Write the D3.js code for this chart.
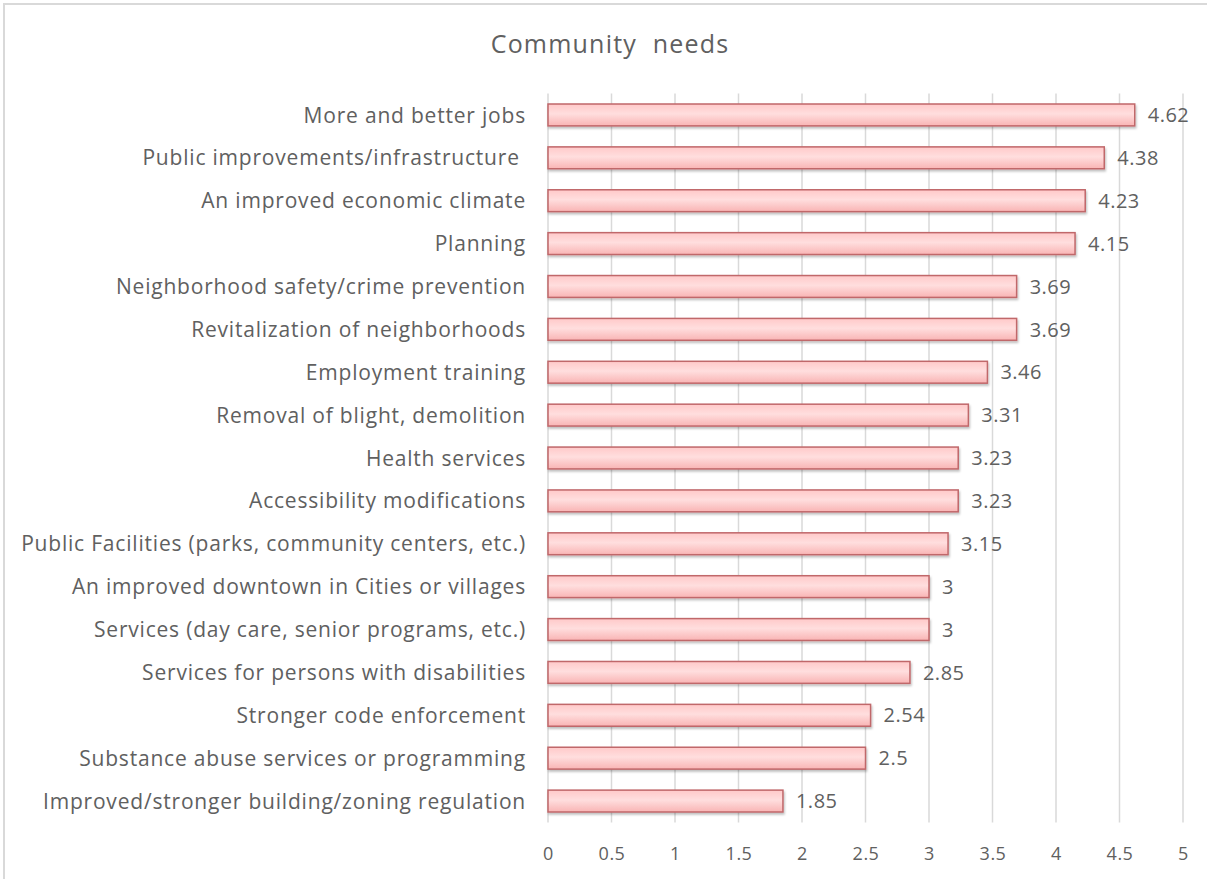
<!DOCTYPE html>
<html>
<head>
<meta charset="utf-8">
<script src="https://cdn.jsdelivr.net/npm/d3@7"></script>
<style>
  html, body { margin: 0; padding: 0; background: #fff; }
  svg { display: block; }
  text { font-family: "Open Sans", "Noto Sans", sans-serif; fill: #606060; }
</style>
</head>
<body>
<svg id="chart" width="1207" height="879"></svg>
<script>
// Community needs survey: mean rating per need
const categories = [
  "More and better jobs",
  "Public improvements/infrastructure ",
  "An improved economic climate",
  "Planning",
  "Neighborhood safety/crime prevention",
  "Revitalization of neighborhoods",
  "Employment training",
  "Removal of blight, demolition",
  "Health services",
  "Accessibility modifications",
  "Public Facilities (parks, community centers, etc.)",
  "An improved downtown in Cities or villages",
  "Services (day care, senior programs, etc.)",
  "Services for persons with disabilities",
  "Stronger code enforcement",
  "Substance abuse services or programming",
  "Improved/stronger building/zoning regulation"
];
const values = [4.62, 4.38, 4.23, 4.15, 3.69, 3.69, 3.46, 3.31, 3.23, 3.23, 3.15, 3, 3, 2.85, 2.54, 2.5, 1.85];
const tickValues = [0, 0.5, 1, 1.5, 2, 2.5, 3, 3.5, 4, 4.5, 5];
const title = "Community needs";

const svg = d3.select("#chart");
const W = 1207, H = 879;

// outer chart frame
svg.append("rect")
  .attr("x", 4).attr("y", 4)
  .attr("width", W + 10).attr("height", H + 10)
  .attr("fill", "#fff")
  .attr("stroke", "#d9d9d9").attr("stroke-width", 2);

const plot = { left: 548, right: 1183, top: 93.5, bottom: 822.5 };

const x = d3.scaleLinear().domain([0, 5]).range([plot.left, plot.right]);
const y = d3.scaleBand().domain(categories).range([plot.top, plot.bottom]).paddingInner(0.49).paddingOuter(0.245);

const defs = svg.append("defs");
const grad = defs.append("linearGradient").attr("id", "barFill")
  .attr("x1", 0).attr("y1", 0).attr("x2", 0).attr("y2", 1);
grad.append("stop").attr("offset", "0%").attr("stop-color", "#ffc9c9");
grad.append("stop").attr("offset", "45%").attr("stop-color", "#ffdede");
grad.append("stop").attr("offset", "100%").attr("stop-color", "#f9b4b4");

const shadow = defs.append("filter").attr("id", "barShadow")
  .attr("x", "-5%").attr("y", "-30%").attr("width", "110%").attr("height", "170%");
shadow.append("feDropShadow").attr("dx", 1).attr("dy", 2).attr("stdDeviation", 1.2)
  .attr("flood-color", "#000").attr("flood-opacity", 0.25);

// vertical gridlines
svg.append("g")
  .selectAll("line")
  .data(tickValues)
  .join("line")
  .attr("x1", d => x(d)).attr("x2", d => x(d))
  .attr("y1", plot.top).attr("y2", plot.bottom)
  .attr("stroke", "#d9d9d9").attr("stroke-width", 1.5);

// title
svg.append("text")
  .attr("x", 610).attr("y", 53)
  .attr("text-anchor", "middle")
  .style("font-size", "25px")
  .style("letter-spacing", "1.2px")
  .style("word-spacing", "8px")
  .text(title);

// bars
svg.append("g")
  .selectAll("rect")
  .data(values)
  .join("rect")
  .attr("x", x(0))
  .attr("y", (d, i) => y(categories[i]))
  .attr("width", d => x(d) - x(0))
  .attr("height", y.bandwidth())
  .attr("fill", "url(#barFill)")
  .attr("stroke", "#c0676a").attr("stroke-width", 1.5)
  .attr("filter", "url(#barShadow)");

// value labels
svg.append("g")
  .selectAll("text")
  .data(values)
  .join("text")
  .attr("x", d => x(d) + 13)
  .attr("y", (d, i) => y(categories[i]) + y.bandwidth() / 2)
  .attr("dy", "0.36em")
  .style("font-size", "20px")
  .style("letter-spacing", "0.5px")
  .text(d => d);

// category axis
const yAxis = svg.append("g")
  .attr("transform", `translate(${plot.left - 22},0)`)
  .call(d3.axisLeft(y).tickSize(0).tickPadding(0));
yAxis.select(".domain").remove();
yAxis.selectAll("text")
  .attr("fill", "#606060")
  .attr("dy", "0.36em")
  .style("font-size", "21px")
  .style("letter-spacing", "0.8px")
  .style("white-space", "pre");

// value axis
const xAxis = svg.append("g")
  .attr("transform", `translate(0,${plot.bottom})`)
  .call(d3.axisBottom(x).tickValues(tickValues).tickSize(0).tickPadding(25).tickFormat(d3.format("")));
xAxis.select(".domain").remove();
xAxis.selectAll("text").attr("fill", "#606060")
  .style("font-size", "18px")
  .style("letter-spacing", "0.5px");
</script>
</body>
</html>
